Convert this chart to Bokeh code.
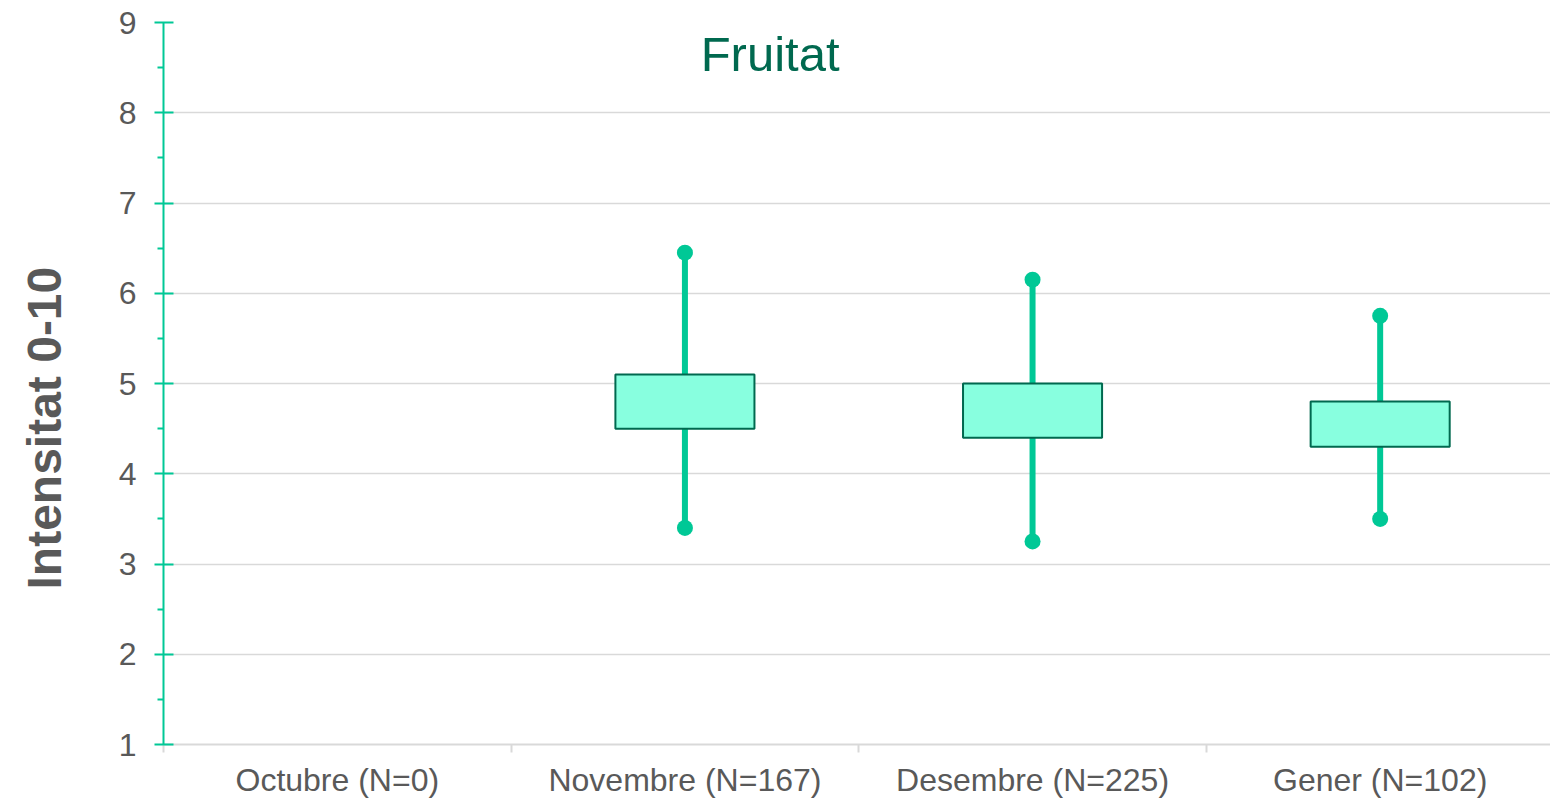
import math
from bokeh.plotting import figure
from bokeh.models import ColumnDataSource, Range1d, FixedTicker, Label, Title
from bokeh.embed import file_html
from bokeh.resources import INLINE

# ---- data ----
categories = ["Octubre (N=0)", "Novembre (N=167)", "Desembre (N=225)", "Gener (N=102)"]
q1 = [math.nan, 4.5, 4.4, 4.3]
q3 = [math.nan, 5.1, 5.0, 4.8]
low = [math.nan, 3.4, 3.25, 3.5]
high = [math.nan, 6.45, 6.15, 5.75]
y_ticks = [1, 2, 3, 4, 5, 6, 7, 8, 9]
title_text = "Fruitat"
y_label = "Intensitat 0-10"

FONT = "Liberation Sans"
GREEN = "#00c896"
DARK = "#00694f"
FILL = "#88ffdf"
GRID = "#d9d9d9"
TXT = "#595959"

idx = [i for i in range(len(categories)) if not math.isnan(q1[i])]
xs = [i + 0.5 for i in idx]
src = ColumnDataSource(dict(
    x=xs,
    q1=[q1[i] for i in idx],
    q3=[q3[i] for i in idx],
    low=[low[i] for i in idx],
    high=[high[i] for i in idx],
))

p = figure(width=1550, height=800, output_backend="svg", toolbar_location=None,
           x_range=Range1d(0, 3.99), y_range=Range1d(1, 9),
           min_border_left=163, min_border_right=0, min_border_top=22, min_border_bottom=53)
p.outline_line_color = None
p.background_fill_color = "white"
p.border_fill_color = "white"

# whiskers
p.segment(x0="x", y0="low", x1="x", y1="high", source=src, line_color=GREEN, line_width=6)
# boxes
p.vbar(x="x", bottom="q1", top="q3", width=0.4, source=src,
       fill_color=FILL, line_color=DARK, line_width=2)
# whisker end points
p.scatter(x="x", y="high", source=src, size=16, fill_color=GREEN, line_color=None)
p.scatter(x="x", y="low", source=src, size=16, fill_color=GREEN, line_color=None)

# grid
p.xgrid.grid_line_color = None
p.ygrid.grid_line_color = GRID
p.ygrid.grid_line_width = 1.5

# y axis
yax = p.yaxis[0]
yax.ticker = FixedTicker(ticks=y_ticks, minor_ticks=[t + 0.5 for t in y_ticks[:-1]])
yax.axis_line_color = GREEN
yax.axis_line_width = 2
yax.major_tick_line_color = GREEN
yax.major_tick_line_width = 2
yax.major_tick_in = 10
yax.major_tick_out = 9
yax.minor_tick_line_color = GREEN
yax.minor_tick_line_width = 2
yax.minor_tick_in = 0
yax.minor_tick_out = 6
yax.major_label_text_font = FONT
yax.major_label_text_font_size = "32px"
yax.major_label_text_color = TXT
yax.major_label_standoff = 18
# invisible spacer label to push the y title outward
yax.axis_label = "\u00a0"
yax.axis_label_text_font_size = "10px"
yax.axis_label_standoff = 14

# y axis title, placed as in the reference (slightly below the frame centre)
p.add_layout(Title(text=y_label, align="left", offset=155, standoff=30, vertical_align="top",
                   text_font=FONT, text_font_size="48px", text_font_style="bold",
                   text_color=TXT), "left")

# x axis
xax = p.xaxis[0]
centers = [i + 0.5 for i in range(len(categories))]
xax.ticker = FixedTicker(ticks=centers, minor_ticks=list(range(len(categories) + 1)))
xax.major_label_overrides = {c: lab for c, lab in zip(centers, categories)}
xax.axis_line_color = GRID
xax.axis_line_width = 2
xax.major_tick_line_color = None
xax.minor_tick_line_color = GRID
xax.minor_tick_line_width = 2
xax.minor_tick_in = 0
xax.minor_tick_out = 8
xax.major_label_text_font = FONT
xax.major_label_text_font_size = "32px"
xax.major_label_text_color = TXT
xax.major_label_standoff = 9

# title inside plot
p.add_layout(Label(x=1.745, y=8.65, text=title_text, text_font=FONT, text_font_size="49px",
                   text_color=DARK, text_align="center", text_baseline="alphabetic"))

open("out.html", "w").write(file_html(p, INLINE))
